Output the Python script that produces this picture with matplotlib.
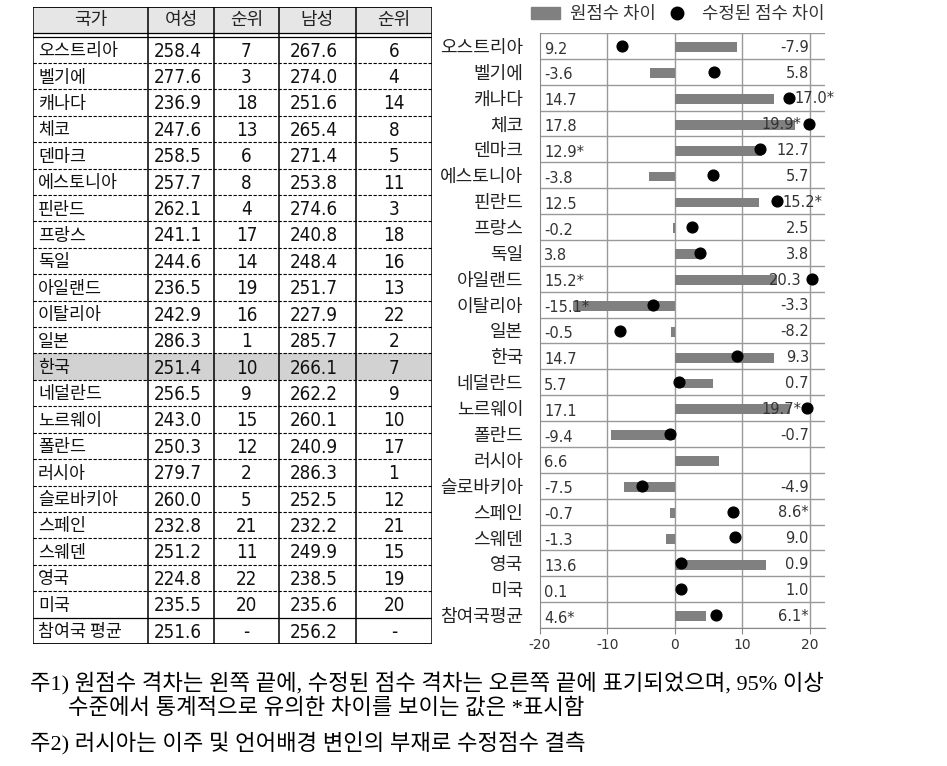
import matplotlib
matplotlib.use('Agg')
import matplotlib.pyplot as plt
from matplotlib.patches import Rectangle
from matplotlib.lines import Line2D
import numpy as np

plt.rcParams['font.family'] = ['Noto Sans CJK KR', 'DejaVu Sans']
plt.rcParams['axes.unicode_minus'] = False

# table data
countries = ['오스트리아', '벨기에', '캐나다', '체코', '덴마크', '에스토니아', '핀란드',
             '프랑스', '독일', '아일랜드', '이탈리아', '일본', '한국', '네덜란드', '노르웨이',
             '폴란드', '러시아', '슬로바키아', '스페인', '스웨덴', '영국', '미국', '참여국 평균']
female = ['258.4', '277.6', '236.9', '247.6', '258.5', '257.7', '262.1', '241.1', '244.6',
          '236.5', '242.9', '286.3', '251.4', '256.5', '243.0', '250.3', '279.7', '260.0',
          '232.8', '251.2', '224.8', '235.5', '251.6']
female_rank = ['7', '3', '18', '13', '6', '8', '4', '17', '14', '19', '16', '1', '10', '9',
               '15', '12', '2', '5', '21', '11', '22', '20', '-']
male = ['267.6', '274.0', '251.6', '265.4', '271.4', '253.8', '274.6', '240.8', '248.4',
        '251.7', '227.9', '285.7', '266.1', '262.2', '260.1', '240.9', '286.3', '252.5',
        '232.2', '249.9', '238.5', '235.6', '256.2']
male_rank = ['6', '4', '14', '8', '5', '11', '3', '18', '16', '13', '22', '2', '7', '9',
             '10', '17', '1', '12', '21', '15', '19', '20', '-']
headers = ['국가', '여성', '순위', '남성', '순위']

# chart data
chart_names = countries[:-1] + ['참여국평균']
raw_gap = [9.2, -3.6, 14.7, 17.8, 12.9, -3.8, 12.5, -0.2, 3.8, 15.2, -15.1, -0.5, 14.7,
           5.7, 17.1, -9.4, 6.6, -7.5, -0.7, -1.3, 13.6, 0.1, 4.6]
raw_sig = ['', '', '', '', '*', '', '', '', '', '*', '*', '', '', '', '', '', '', '', '',
           '', '', '', '*']
adj_gap = [-7.9, 5.8, 17.0, 19.9, 12.7, 5.7, 15.2, 2.5, 3.8, 20.3, -3.3, -8.2, 9.3, 0.7,
           19.7, -0.7, np.nan, -4.9, 8.6, 9.0, 0.9, 1.0, 6.1]
adj_sig = ['', '', '*', '*', '', '', '*', '', '', '', '', '', '', '', '*', '', '', '', '*',
           '', '', '', '*']

W, H = 947, 766
fig = plt.figure(figsize=(W / 100, H / 100), dpi=100)


def px_axes(x0, y0, x1, y1):
    return fig.add_axes([x0 / W, 1 - y1 / H, (x1 - x0) / W, (y1 - y0) / H])


# ---------------- table ----------------
tab = px_axes(33, 7, 432, 644)
n = len(countries)
hh = 1.12
tab.set_xlim(0, 399)
tab.set_ylim(n, -hh)
tab.axis('off')
col_edges = [0, 115, 181, 246, 323, 399]

tab.add_patch(Rectangle((0, -hh), 399, hh - 0.12, color='#e6e6e6', lw=0))
tab.add_patch(Rectangle((0, 12), 399, 1, color='#d2d2d2', lw=0))

for x in col_edges:
    tab.plot([x, x], [-hh, n], color='black', lw=1.1)
tab.plot([0, 399], [-hh, -hh], color='black', lw=1.3)
tab.plot([0, 399], [n, n], color='black', lw=1.3)
tab.plot([0, 399], [-0.12, -0.12], color='black', lw=0.9)
tab.plot([0, 399], [0, 0], color='black', lw=0.9)
for i in range(1, n - 1):
    tab.plot([0, 399], [i, i], color='black', lw=0.8, ls=(0, (3, 1.5)))
tab.plot([0, 399], [n - 1, n - 1], color='black', lw=0.9)

num_kw = dict(family='DejaVu Sans', fontstretch='condensed', fontsize=13.5,
              color='#111111')
for j, h in enumerate(headers):
    tab.text((col_edges[j] + col_edges[j + 1]) / 2, -hh / 2 - 0.06, h, ha='center',
             va='center', fontsize=13, color='#222222')
for i in range(n):
    y = i + 0.55
    tab.text(5, y, countries[i], ha='left', va='center', fontsize=12.5, color='#111111')
    tab.text(121, y, female[i], ha='left', va='center', **num_kw)
    tab.text(213.5, y, female_rank[i], ha='center', va='center', **num_kw)
    tab.text(257, y, male[i], ha='left', va='center', **num_kw)
    tab.text(361, y, male_rank[i], ha='center', va='center', **num_kw)

# ---------------- chart ----------------
ax = px_axes(540, 33, 825, 628)
ypos = np.arange(len(chart_names))
ax.barh(ypos + 0.05, raw_gap, height=0.38, color='#808080', zorder=2)
ax.scatter(adj_gap, ypos, s=60, color='black', zorder=3)

ax.set_xlim(-20, 22.3)
ax.set_ylim(len(chart_names) - 0.5, -0.5)
ax.set_xticks([-20, -10, 0, 10, 20])
ax.set_yticks(ypos)
ax.set_yticklabels(chart_names, fontsize=13, color='#222222')
ax.tick_params(axis='y', length=0, pad=12)
ax.tick_params(axis='x', length=4, color='#888888', labelsize=10, labelcolor='#333333',
               pad=3)
for lbl in ax.get_xticklabels():
    lbl.set_family('DejaVu Sans')

for x in [-10, 0, 10, 20]:
    ax.axvline(x, color='#999999', lw=1, zorder=1)
for b in np.arange(-0.5, len(chart_names), 1.0):
    ax.axhline(b, color='#999999', lw=1, zorder=1)
ax.spines['right'].set_visible(False)
ax.spines['top'].set_visible(False)
ax.spines['left'].set_color('#888888')
ax.spines['bottom'].set_color('#888888')

for i in range(len(chart_names)):
    ax.text(-19.4, i + 0.12, f'{raw_gap[i]:.1f}{raw_sig[i]}', ha='left', va='center',
            fontsize=10.5, color='#333333', family='DejaVu Sans', zorder=4)
    a = adj_gap[i]
    if np.isnan(a):
        continue
    s = f'{a:.1f}{adj_sig[i]}'
    if a > 17.5:
        ax.text(18.8, i + 0.05, s, ha='right', va='center', fontsize=10.5,
                color='#333333', family='DejaVu Sans', zorder=4)
    elif a >= 15:
        ax.text(a + 0.8, i + 0.05, s, ha='left', va='center', fontsize=10.5,
                color='#333333', family='DejaVu Sans', zorder=4)
    else:
        ax.text(19.9, i + 0.05, s, ha='right', va='center', fontsize=10.5,
                color='#333333', family='DejaVu Sans', zorder=4)

handles = [Rectangle((0, 0), 1, 1, color='#808080'),
           Line2D([], [], marker='o', color='black', ls='', markersize=9)]
fig.legend(handles, ['원점수 차이', '수정된 점수 차이'], loc='center',
           bbox_to_anchor=(678 / W, 1 - 14 / H), ncol=2, frameon=False, fontsize=12.8,
           handlelength=1.6, handletextpad=0.6, columnspacing=0.4,
           labelcolor='#333333')

# ---------------- notes ----------------
note_font = ['Liberation Serif', 'Noto Sans CJK KR']
fig.text(30 / W, 1 - 684 / H,
         '주1) 원점수 격차는 왼쪽 끝에, 수정된 점수 격차는 오른쪽 끝에 표기되었으며, 95% 이상',
         ha='left', va='center', fontsize=16, family=note_font)
fig.text(68 / W, 1 - 709 / H, '수준에서 통계적으로 유의한 차이를 보이는 값은 *표시함',
         ha='left', va='center', fontsize=16, family=note_font)
fig.text(30 / W, 1 - 744 / H, '주2) 러시아는 이주 및 언어배경 변인의 부재로 수정점수 결측',
         ha='left', va='center', fontsize=16, family=note_font)

fig.savefig('out.png', dpi=100)
